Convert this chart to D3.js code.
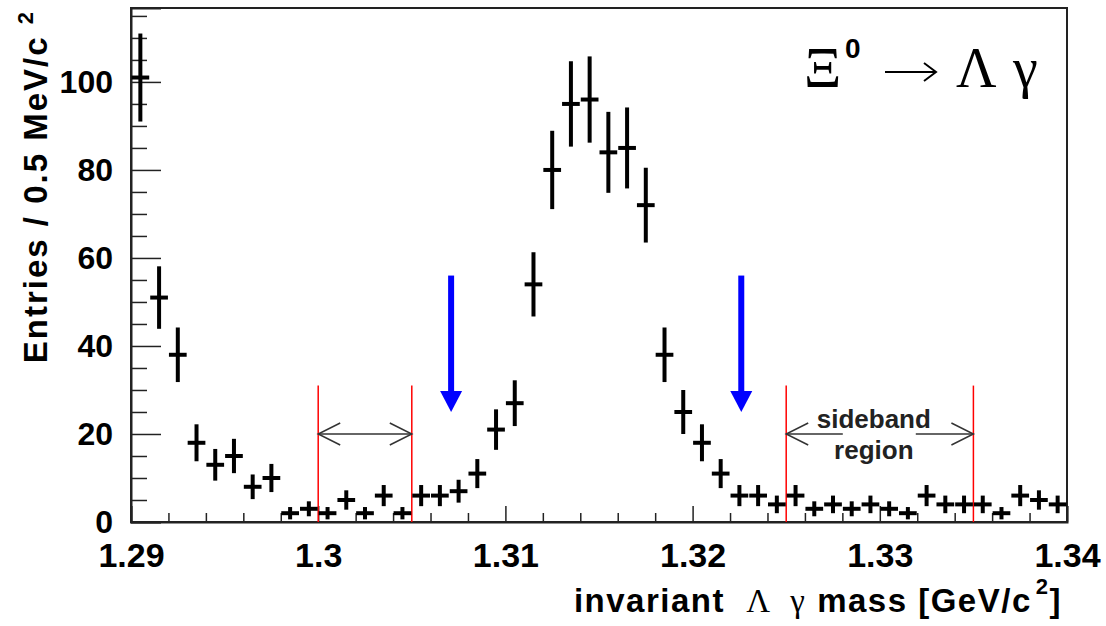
<!DOCTYPE html>
<html>
<head>
<meta charset="utf-8">
<script src="https://cdn.jsdelivr.net/npm/d3@7"></script>
<style>
  body { margin: 0; background: #fff; }
  svg { display: block; }
</style>
</head>
<body>
<div id="chart"></div>
<script>
// bin centres of the 1 MeV histogram, GeV/c^2
var massCenters = [1.2905, 1.2915, 1.2925, 1.2935, 1.2945, 1.2955, 1.2965, 1.2975, 1.2985, 1.2995,
                   1.3005, 1.3015, 1.3025, 1.3035, 1.3045, 1.3055, 1.3065, 1.3075, 1.3085, 1.3095,
                   1.3105, 1.3115, 1.3125, 1.3135, 1.3145, 1.3155, 1.3165, 1.3175, 1.3185, 1.3195,
                   1.3205, 1.3215, 1.3225, 1.3235, 1.3245, 1.3255, 1.3265, 1.3275, 1.3285, 1.3295,
                   1.3305, 1.3315, 1.3325, 1.3335, 1.3345, 1.3355, 1.3365, 1.3375, 1.3385, 1.3395];
var counts = [101, 51, 38, 18, 13, 15, 8, 10, 2, 3,
              2, 5, 2, 6, 2, 6, 6, 7, 11, 21,
              27, 54, 80, 95, 96, 84, 85, 72, 38, 25,
              18, 11, 6, 6, 4, 6, 3, 4, 3, 4,
              3, 2, 6, 4, 4, 4, 2, 6, 5, 4];
var errors = [10, 7.1, 6.2, 4.2, 3.6, 3.9, 2.8, 3.2, 1.4, 1.7,
              1.4, 2.2, 1.4, 2.4, 1.4, 2.4, 2.4, 2.6, 3.3, 4.6,
              5.2, 7.3, 8.9, 9.7, 9.8, 9.2, 9.2, 8.5, 6.2, 5,
              4.2, 3.3, 2.4, 2.4, 2, 2.4, 1.7, 2, 1.7, 2,
              1.7, 1.4, 2.4, 2, 2, 2, 1.4, 2.4, 2.2, 2];
var binWidth = 0.001;

var xTickValues = [1.29, 1.30, 1.31, 1.32, 1.33, 1.34];
var xTickLabels = ["1.29", "1.3", "1.31", "1.32", "1.33", "1.34"];
var xMinorTicks = [1.292, 1.294, 1.296, 1.298, 1.302, 1.304, 1.306, 1.308, 1.312, 1.314, 1.316, 1.318,
                   1.322, 1.324, 1.326, 1.328, 1.332, 1.334, 1.336, 1.338];
var yTickValues = [0, 20, 40, 60, 80, 100];
var yMinorTicks = [5, 10, 15, 25, 30, 35, 45, 50, 55, 65, 70, 75, 85, 90, 95, 105, 110, 115];

var sidebands = [[1.300, 1.305], [1.325, 1.335]];
var sidebandTop = 31;
var sidebandArrowY = 20;
var signalArrows = [1.3071, 1.3226];
var signalArrowTop = 56, signalArrowTip = 25;

var svgWidth = 1106, svgHeight = 626;
var margin = {top: 8, right: 39, bottom: 104, left: 131};
var width = svgWidth - margin.left - margin.right,
    height = svgHeight - margin.top - margin.bottom;

var sans = "'Liberation Sans', Arial, Helvetica, sans-serif";
var serif = "'Liberation Serif', 'Times New Roman', serif";

var x = d3.scaleLinear().domain([1.29, 1.34]).range([0, width]);
var y = d3.scaleLinear().domain([0, 116.8]).range([height, 0]);

var svg = d3.select("#chart").append("svg")
    .attr("width", svgWidth)
    .attr("height", svgHeight);

var g = svg.append("g")
    .attr("transform", "translate(" + margin.left + "," + margin.top + ")");

// frame
g.append("rect")
  .attr("width", width).attr("height", height)
  .attr("fill", "none").attr("stroke", "#222").attr("stroke-width", 2);

// x axis (ticks inward)
var xAxis = g.append("g")
  .attr("transform", "translate(0," + height + ")")
  .call(d3.axisBottom(x).tickValues(xTickValues).tickSize(-16)
        .tickFormat(function(d, i) { return xTickLabels[i]; }));
g.append("g")
  .attr("transform", "translate(0," + height + ")")
  .call(d3.axisBottom(x).tickValues(xMinorTicks).tickSize(-9).tickFormat(""))
  .select(".domain").remove();
xAxis.selectAll("text")
  .attr("y", 21).attr("dy", "0.71em")
  .style("font-family", sans)
  .style("font-weight", "bold").style("font-size", "34px").attr("fill", "#000");

// y axis (ticks inward)
var yAxis = g.append("g")
  .call(d3.axisLeft(y).tickValues(yTickValues).tickSize(-30));
g.append("g")
  .call(d3.axisLeft(y).tickValues(yMinorTicks).tickSize(-16).tickFormat(""))
  .select(".domain").remove();
yAxis.selectAll("text")
  .attr("x", -18).attr("dy", "0.34em")
  .style("font-family", sans)
  .style("font-weight", "bold").style("font-size", "32px").attr("fill", "#000");

g.selectAll(".domain").attr("stroke", "#222").attr("stroke-width", 2);
g.selectAll(".tick line").attr("stroke", "#222").attr("stroke-width", 1.5);

// sideband markers
sidebands.forEach(function(sb) {
  sb.forEach(function(edge) {
    g.append("line")
      .attr("x1", x(edge)).attr("x2", x(edge))
      .attr("y1", y(0)).attr("y2", y(sidebandTop))
      .attr("stroke", "#ff0000").attr("stroke-width", 1.5);
  });
});

function openArrow(x1, x2, yy, gap) {
  var ay = y(yy);
  if (gap) {
    g.append("line").attr("x1", x(x1)).attr("x2", gap[0]).attr("y1", ay).attr("y2", ay)
      .attr("stroke", "#333").attr("stroke-width", 1.5);
    g.append("line").attr("x1", gap[1]).attr("x2", x(x2)).attr("y1", ay).attr("y2", ay)
      .attr("stroke", "#333").attr("stroke-width", 1.5);
  } else {
    g.append("line").attr("x1", x(x1)).attr("x2", x(x2)).attr("y1", ay).attr("y2", ay)
      .attr("stroke", "#333").attr("stroke-width", 1.5);
  }
  var head = "M" + (x(x1) + 22) + "," + (ay - 11) + "L" + x(x1) + "," + ay + "L" + (x(x1) + 22) + "," + (ay + 11) +
             "M" + (x(x2) - 22) + "," + (ay - 11) + "L" + x(x2) + "," + ay + "L" + (x(x2) - 22) + "," + (ay + 11);
  g.append("path").attr("d", head).attr("fill", "none").attr("stroke", "#333").attr("stroke-width", 1.5);
}
openArrow(sidebands[0][0], sidebands[0][1], sidebandArrowY);
var midSb = (x(sidebands[1][0]) + x(sidebands[1][1])) / 2;
openArrow(sidebands[1][0], sidebands[1][1], sidebandArrowY, [midSb - 37, midSb + 36]);

[["sideband", -6], ["region", 25]].forEach(function(t) {
  g.append("text")
    .attr("x", midSb - 6).attr("y", y(sidebandArrowY) + t[1])
    .attr("text-anchor", "middle")
    .style("font-family", sans)
    .style("font-size", "26px").style("font-weight", "bold").attr("fill", "#222")
    .text(t[0]);
});

// signal window arrows
signalArrows.forEach(function(m) {
  var ax = x(m);
  g.append("rect")
    .attr("x", ax - 3).attr("width", 6)
    .attr("y", y(signalArrowTop)).attr("height", y(signalArrowTip) - y(signalArrowTop) - 20)
    .attr("fill", "#0000ff");
  g.append("path")
    .attr("d", "M" + (ax - 11) + "," + (y(signalArrowTip) - 21) + "L" + (ax + 11) + "," + (y(signalArrowTip) - 21) +
               "L" + ax + "," + y(signalArrowTip) + "Z")
    .attr("fill", "#0000ff");
});

// data points with error bars
var pts = g.selectAll(".pt")
  .data(massCenters.map(function(m, i) { return {m: m, n: counts[i], e: errors[i]}; }))
  .enter().append("g").attr("class", "pt");

var bw = x(1.29 + binWidth) - x(1.29);
pts.append("line")
  .attr("x1", function(d) { return x(d.m); })
  .attr("x2", function(d) { return x(d.m); })
  .attr("y1", function(d) { return y(Math.max(0, d.n - d.e)); })
  .attr("y2", function(d) { return y(d.n + d.e); })
  .attr("stroke", "#000").attr("stroke-width", 4);
pts.append("line")
  .attr("x1", function(d) { return x(d.m) - bw / 2 + 0.5; })
  .attr("x2", function(d) { return x(d.m) + bw / 2 - 0.5; })
  .attr("y1", function(d) { return y(d.n); })
  .attr("y2", function(d) { return y(d.n); })
  .attr("stroke", "#000").attr("stroke-width", 4);

// title  Xi0 -> Lambda gamma
var title = svg.append("g");
title.append("text").attr("x", 804).attr("y", 87)
  .style("font-family", serif).style("font-size", "58px")
  .text("\u039E");
title.append("text").attr("x", 845).attr("y", 58)
  .style("font-family", sans).style("font-weight", "bold").style("font-size", "28px")
  .text("0");
title.append("path")
  .attr("d", "M885,72L936,72M924,63L936,72L924,81")
  .attr("fill", "none").attr("stroke", "#000").attr("stroke-width", 2);
title.append("text").attr("x", 956).attr("y", 87)
  .style("font-family", serif).style("font-size", "56px")
  .text("\u039B");
title.append("text").attr("x", 1013).attr("y", 87)
  .style("font-family", serif).style("font-size", "56px")
  .text("\u03B3");

// x axis title
var xt = svg.append("text")
  .attr("x", 1062).attr("y", 612).attr("text-anchor", "end")
  .style("font-family", sans).style("letter-spacing", "1.5px").style("white-space", "pre")
  .style("font-weight", "bold").style("font-size", "33px").attr("fill", "#000");
xt.append("tspan").text("invariant  ");
xt.append("tspan").style("font-family", serif).style("font-weight", "normal").text("\u039B  \u03B3");
xt.append("tspan").text(" mass [GeV/c");
xt.append("tspan").attr("dy", -18).attr("dx", 4).style("font-size", "22px").text("2");
xt.append("tspan").attr("dy", 18).text("]");

// y axis title
var yt = svg.append("text")
  .attr("transform", "translate(47,10) rotate(-90)")
  .attr("text-anchor", "end")
  .style("font-family", sans).style("letter-spacing", "2px").style("white-space", "pre")
  .style("font-weight", "bold").style("font-size", "33px").attr("fill", "#000");
yt.append("tspan").text("Entries / 0.5 MeV/c ");
yt.append("tspan").attr("dy", -14).style("font-size", "22px").text("2");
</script>
</body>
</html>
